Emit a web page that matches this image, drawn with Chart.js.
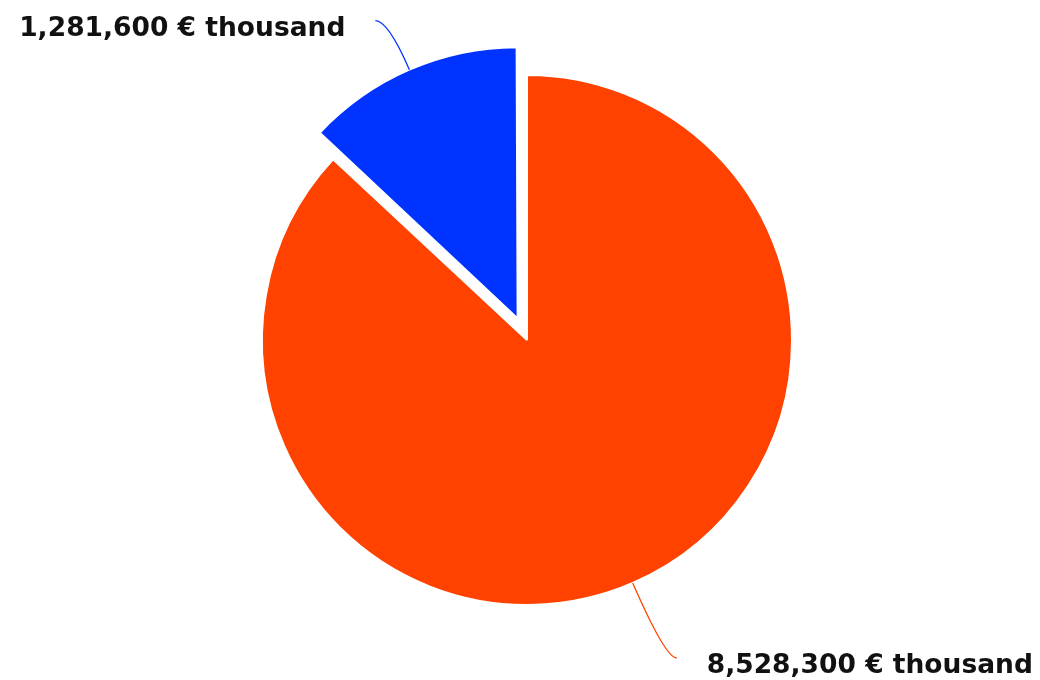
<!DOCTYPE html>
<html>
<head>
<meta charset="utf-8">
<script src="https://cdn.jsdelivr.net/npm/chart.js@4/dist/chart.umd.min.js"></script>
<style>
  html, body { margin: 0; padding: 0; background: #ffffff; }
  #wrap { width: 1040px; height: 680px; }
</style>
</head>
<body>
<div id="wrap"><canvas id="pie"></canvas></div>
<script>
// Slice values (in € thousand), drawn clockwise from 12 o'clock
const values = [8528300, 1281600];
const sliceColors = ['#ff4200', '#0033ff'];
const unit = '€ thousand';
const valueLabels = values.map(v => v.toLocaleString('en-US') + ' ' + unit);

// Same shift that ArcElement applies when a slice has an offset
function arcShift(arc) {
  const off = (arc.options.offset || 0) / 4;
  const circ = arc.circumference;
  const fix = 1 - Math.sin(Math.min(Math.PI, circ || 0));
  return off * (1 + fix);
}

// Curved connector + value text for each slice
const sliceLabels = {
  id: 'sliceLabels',
  afterDatasetsDraw(chart, args, opts) {
    const ctx = chart.ctx;
    const meta = chart.getDatasetMeta(0);
    ctx.save();
    ctx.font = opts.font;
    ctx.fillStyle = opts.textColor;
    ctx.textBaseline = 'alphabetic';
    meta.data.forEach((arc, i) => {
      const p = arc.getProps(['x', 'y', 'startAngle', 'endAngle', 'outerRadius'], true);
      const mid = (p.startAngle + p.endAngle) / 2;
      const ux = Math.cos(mid), uy = Math.sin(mid);
      const shift = arcShift(arc);
      const sx = p.x + ux * (p.outerRadius + shift);
      const sy = p.y + uy * (p.outerRadius + shift);
      const d = opts.anchor[i];
      const ex = sx + d[0], ey = sy + d[1];
      // control point: radial ray reaching the end point's height
      const t = (ey - sy) / uy;
      const cx = sx + ux * t, cy = ey;
      ctx.strokeStyle = sliceColors[i];
      ctx.lineWidth = 1.3;
      ctx.beginPath();
      ctx.moveTo(sx, sy);
      ctx.quadraticCurveTo(cx, cy, ex, ey);
      ctx.stroke();
      const left = d[0] > 0;
      ctx.textAlign = left ? 'left' : 'right';
      ctx.fillText(valueLabels[i], ex + (left ? opts.gap : -opts.gap), ey + opts.baselineShift);
    });
    ctx.restore();
  }
};

new Chart(document.getElementById('pie'), {
  type: 'pie',
  data: {
    labels: valueLabels,
    datasets: [{
      data: values,
      backgroundColor: sliceColors,
      borderColor: '#ffffff',
      borderWidth: 2,
      offset: [0, 94],
      hoverOffset: 0
    }]
  },
  options: {
    responsive: true,
    maintainAspectRatio: false,
    animation: false,
    events: [],
    radius: 265,
    layout: { padding: { left: 14, right: 0, top: 0, bottom: 0 } },
    plugins: {
      legend: { display: false },
      tooltip: { enabled: false },
      sliceLabels: {
        font: 'bold 26.5px "DejaVu Sans"',
        textColor: '#111111',
        anchor: [[44, 75], [-34, -49]],
        gap: 30,
        baselineShift: 15
      }
    }
  },
  plugins: [sliceLabels]
});
</script>
</body>
</html>
